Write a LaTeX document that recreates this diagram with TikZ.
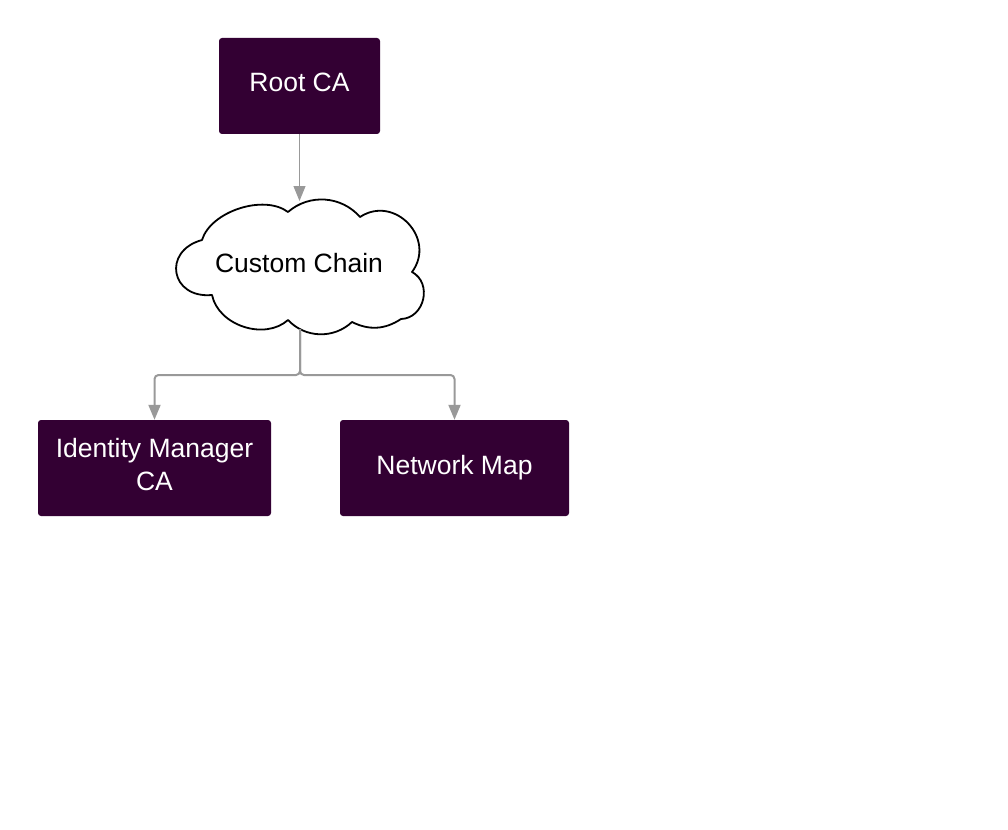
\documentclass[tikz,border=0pt]{standalone}
\usepackage{fontspec}
\setmainfont{Liberation Sans}
\usepackage{xcolor}
\usepackage{tikz}
\usetikzlibrary{positioning,arrows.meta}
\definecolor{capurple}{HTML}{330033}
\definecolor{linkgray}{HTML}{999999}

\tikzset{
    cabox/.style={rectangle, rounded corners=3pt, fill=capurple, text=white, align=center,
        font=\fontsize{26.5}{33}\selectfont, minimum height=96pt, inner sep=0pt, text depth=7pt},
    chainline/.style={draw=black, line width=1.8pt, fill=white, line join=round},
    link/.style={draw=linkgray, -{Triangle[length=15pt,width=12pt]}, rounded corners=4pt}
}

\begin{document}
\begin{tikzpicture}[x=1pt,y=-1pt]
    \useasboundingbox (0,0) rectangle (1008,829);
    % cloud
    \draw[chainline] (288,212) to[bend left=45] (360,217) to[bend left=80, looseness=1.4] (412,272)
        to[bend left=75, looseness=1.25] (401,319) to[bend left=30] (352,322) to[bend left=45] (288,320)
        to[bend left=60] (212,295) to[bend left=85, looseness=1.9] (202,240)
        to[bend left=55, looseness=0.85] (288,212) -- cycle;
    % boxes
    \node[cabox, minimum width=161pt] (root) at (299.5,86) {Root CA};
    \node[font=\fontsize{26.5}{33}\selectfont, inner sep=0pt] (custom) at (299,263) {Custom Chain};
    \node[cabox, minimum width=233pt] (idm) at (154.5,468) {Identity Manager\\CA};
    \node[cabox, minimum width=229pt] (netmap) at (454.5,468) {Network Map};
    % links
    \coordinate (chaintop) at (root.south |- 0,201);
    \coordinate (chainbot) at (300,329);
    \coordinate (split) at (chainbot |- 0,375);
    \draw[link, line width=1pt] (root.south) -- (chaintop);
    \draw[link, line width=2pt] (chainbot) -- (split) -| (idm.north);
    \draw[link, line width=2pt] (chainbot) -- (split) -| (netmap.north);
\end{tikzpicture}
\end{document}
